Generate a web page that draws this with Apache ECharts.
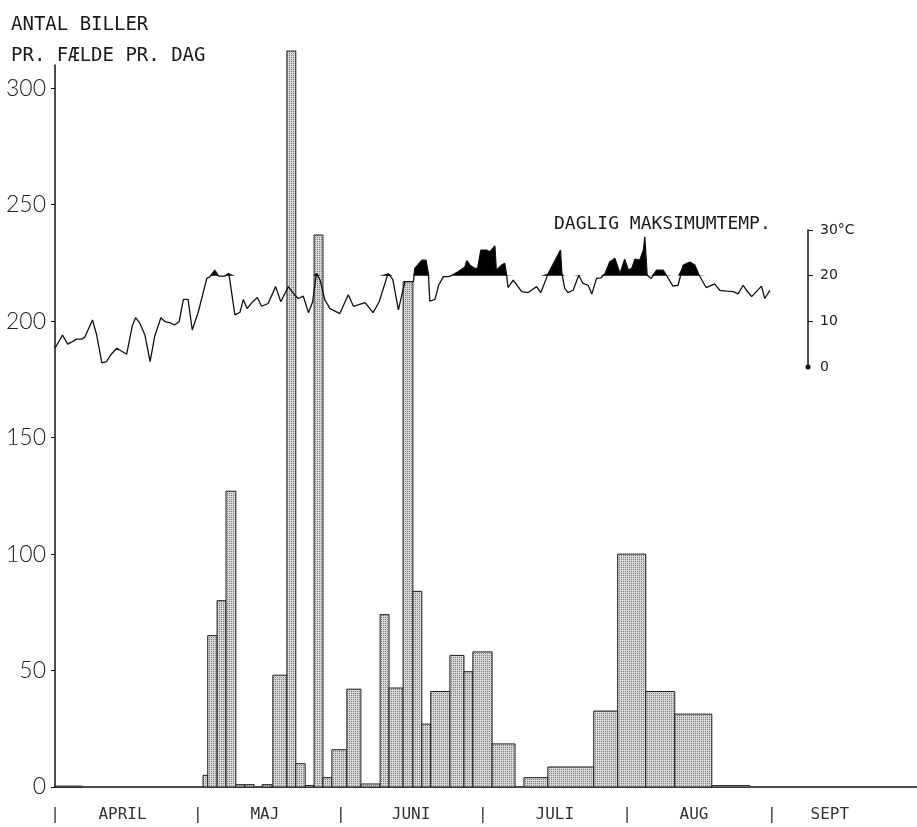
<!DOCTYPE html>
<html><head><meta charset="utf-8">
<script src="https://cdn.jsdelivr.net/npm/echarts@6/dist/echarts.min.js"></script>
<style>html,body{margin:0;padding:0;background:#fff}#c{width:917px;height:827px}</style>
</head><body><div id="c"></div>
<script>
// ---- data ----
const monthNames = ['APRIL','MAJ','JUNI','JULI','AUG','SEPT'];
const monthLabelDays = [14.4, 44.8, 76.0, 106.7, 136.4, 165.4];
const monthBoundaryDays = [0, 30.5, 61, 91.3, 122.1, 153];
const countTicks = [0, 50, 100, 150, 200, 250, 300];
const tempTicks = [0, 10, 20, 30];

// trapping periods (day 0 = 1 April) and beetles per trap per day
const barStart = [0, 31.6, 32.6, 34.6, 36.5, 38.6, 40.5, 44.2, 46.5, 49.5, 51.4, 53.4, 55.3, 57.2, 59.1, 62.3, 65.3, 69.4, 71.3, 74.3, 76.4, 78.3, 80.2, 84.3, 87.3, 89.2, 93.3, 100.1, 105.2, 115.0, 120.1, 126.1, 132.3, 140.2];
const barEnd   = [5.8, 32.6, 34.6, 36.5, 38.6, 40.5, 42.5, 46.3, 49.5, 51.4, 53.4, 55.3, 57.2, 59.1, 62.3, 65.3, 69.4, 71.3, 74.3, 76.4, 78.3, 80.2, 84.3, 87.3, 89.2, 93.3, 98.2, 105.2, 115.0, 120.1, 126.1, 132.3, 140.2, 148.3];
const barValue = [0.4, 5, 65, 80, 127, 1, 1, 1, 48, 316, 10, 0.6, 237, 4, 16, 42, 1.3, 74, 42.5, 217, 84, 27, 41, 56.5, 49.5, 58, 18.5, 4, 8.6, 32.6, 100, 41, 31.3, 0.6];

// daily maximum temperature (°C), read at the line's vertices
const tempDay = [0,1.6,2.7,3.6,4.6,5.7,6.4,8.0,8.9,10,11,12,13.2,15.3,16.5,17.2,18.1,19.2,20.3,21.3,22.6,23.5,24.5,25.5,26.5,27.4,28.4,29.3,30.6,32.4,33.1,34.1,34.9,36.3,37.1,38.4,39.5,
 40.2,41.0,42.2,43.2,44.1,45.5,47.1,48.2,49.8,50.9,51.9,53.0,54.1,55.0,55.8,56.6,57.6,58.7,60.8,62.6,63.7,64.7,66.2,67.9,69.2,71.1,72.1,73.3,74.7,76.5,76.8,78.3,79.2,79.7,80.0,
 81.1,81.9,82.9,84.1,84.7,86.1,87.5,87.9,88.6,89.6,90.2,90.9,92.1,92.8,93.9,94.2,95.3,96.0,96.4,96.7,97.8,98.5,99.6,101.0,101.7,102.8,103.7,105.3,107.9,108.2,108.8,109.5,110.6,111.8,112.7,113.8,114.6,115.6,116.5,117.4,118.4,119.5,
 119.9,120.6,121.6,122.4,123.1,123.8,124.8,125.6,125.9,126.4,127.3,128.4,129.8,130.5,131.9,133.0,134.1,135.5,136.6,137.5,139.0,140.8,141.9,143.3,144.8,145.8,146.9,147.6,148.7,150.8,151.5,152.6];
const tempValue = [4.1,7.0,5.0,5.5,6.1,6.1,6.6,10.3,7.0,0.9,1.2,2.8,4.1,2.8,9.0,10.8,9.6,7.0,1.2,6.8,10.8,9.9,9.7,9.2,9.9,14.8,14.8,8.1,12.1,19.4,19.8,21.2,19.9,19.9,20.5,11.4,12.0,
 14.8,12.8,14.3,15.2,13.3,13.9,17.6,14.3,17.6,16.1,15.0,15.5,11.9,14.3,20.5,19.0,14.7,12.8,11.7,15.8,13.3,13.6,14.1,11.9,14.3,20.5,19.2,12.5,18.7,18.7,21.6,23.4,23.4,20.5,14.4,
 14.8,17.9,19.8,19.8,20.1,20.9,21.9,23.3,22.3,21.6,21.6,25.6,25.6,25.2,26.5,21.2,22.3,22.7,20.1,17.4,19.0,18.1,16.5,16.3,16.8,17.6,16.3,20.5,25.6,20.5,17.2,16.3,16.8,20.1,18.3,17.9,16.0,19.4,19.5,20.4,23.0,23.8,
 24.1,20.5,23.6,21.2,21.6,23.6,23.4,25.6,28.5,20.1,19.4,21.2,21.2,20.1,17.7,17.9,22.3,23.0,22.3,20.1,17.4,18.2,16.8,16.6,16.5,16.0,17.9,16.8,15.4,17.7,15.0,16.8];
const shadeAbove = 20;

// ---- layout ----
const G1 = {left: 55, top: 65, width: 862, height: 722};
const xMax1 = 184;
const pxPerDay = G1.width / xMax1;
const G2 = {left: 55, top: 230, width: 753, height: 137};
const xMax2 = G2.width / pxPerDay;

// stipple pattern for bars
const pat = document.createElement('canvas');
pat.width = 2; pat.height = 2;
const pc = pat.getContext('2d');
pc.fillStyle = '#d6d6d6'; pc.fillRect(0,0,2,2);
pc.fillStyle = '#7c7c7c'; pc.fillRect(1,1,1,1);

const labelMap = {};
monthBoundaryDays.forEach(d => labelMap[String(d)] = '|');
monthLabelDays.forEach((d,i) => labelMap[String(d)] = monthNames[i]);

const chart = echarts.init(document.getElementById('c'), null, {renderer: 'canvas'});
chart.setOption({
  animation: false,
  backgroundColor: '#fff',
  title: [
    {text: 'ANTAL BILLER\nPR. FÆLDE PR. DAG', left: 6, top: 5,
     textStyle: {fontFamily: 'DejaVu Sans Mono', fontSize: 19, fontWeight: 'normal', color: '#1a1a1a', lineHeight: 31}},
    {text: 'DAGLIG MAKSIMUMTEMP.', left: 549, top: 208,
     textStyle: {fontFamily: 'DejaVu Sans Mono', fontSize: 18, fontWeight: 'normal', color: '#1a1a1a', lineHeight: 22}}
  ],
  grid: [
    {left: G1.left, top: G1.top, width: G1.width, height: G1.height},
    {left: G2.left, top: G2.top, width: G2.width, height: G2.height}
  ],
  xAxis: [
    {type: 'value', gridIndex: 0, min: 0, max: xMax1,
     axisLine: {show: true, onZero: false, lineStyle: {color: '#111', width: 1.5}},
     axisTick: {show: false}, splitLine: {show: false},
     axisLabel: {customValues: monthBoundaryDays.concat(monthLabelDays),
       formatter: v => labelMap[String(v)] || '',
       margin: 20, fontFamily: 'DejaVu Sans Mono', fontSize: 16, color: '#333'}},
    {type: 'value', gridIndex: 1, min: 0, max: xMax2, show: false}
  ],
  yAxis: [
    {type: 'value', gridIndex: 0, min: 0, max: 310,
     axisLine: {show: true, onZero: false, lineStyle: {color: '#111', width: 1.5}},
     axisTick: {show: true, customValues: countTicks, length: 4, lineStyle: {color: '#111'}},
     splitLine: {show: false},
     axisLabel: {customValues: countTicks, margin: 9, fontFamily: 'Lato', fontWeight: 300, fontSize: 23, color: '#222'}},
    {type: 'value', gridIndex: 1, min: 0, max: 30, position: 'right',
     axisLine: {show: true, onZero: false, symbol: ['circle', 'none'], symbolSize: [5, 5], lineStyle: {color: '#111', width: 1.5}},
     axisTick: {show: true, customValues: [10, 20, 30], length: 5, lineStyle: {color: '#111'}},
     splitLine: {show: false},
     axisLabel: {customValues: tempTicks, margin: 12, fontFamily: 'DejaVu Sans', fontSize: 14, color: '#222',
       formatter: v => v === 30 ? '30°C' : String(v)}}
  ],
  series: [
    {type: 'custom', xAxisIndex: 0, yAxisIndex: 0, clip: false, z: 2,
     data: barStart.map((s, i) => [s, barEnd[i], barValue[i]]),
     encode: {x: [0, 1], y: 2},
     renderItem: function (params, api) {
       const p0 = api.coord([api.value(0), 0]);
       const p1 = api.coord([api.value(1), api.value(2)]);
       return {type: 'rect',
         shape: {x: p0[0], y: p1[1], width: p1[0] - p0[0], height: p0[1] - p1[1]},
         style: {fill: {image: pat, repeat: 'repeat'}, stroke: '#1e1e1e', lineWidth: 1}};
     }},
    {type: 'line', xAxisIndex: 1, yAxisIndex: 1, z: 3,
     data: tempDay.map((d, i) => [d, Math.max(tempValue[i], shadeAbove)]),
     showSymbol: false, symbol: 'none',
     lineStyle: {width: 0, color: '#000'},
     areaStyle: {color: '#000', opacity: 1, origin: shadeAbove}},
    {type: 'line', xAxisIndex: 1, yAxisIndex: 1, z: 4,
     data: tempDay.map((d, i) => [d, tempValue[i]]),
     showSymbol: false, symbol: 'none',
     lineStyle: {width: 1.3, color: '#111'}}
  ]
});
</script></body></html>
